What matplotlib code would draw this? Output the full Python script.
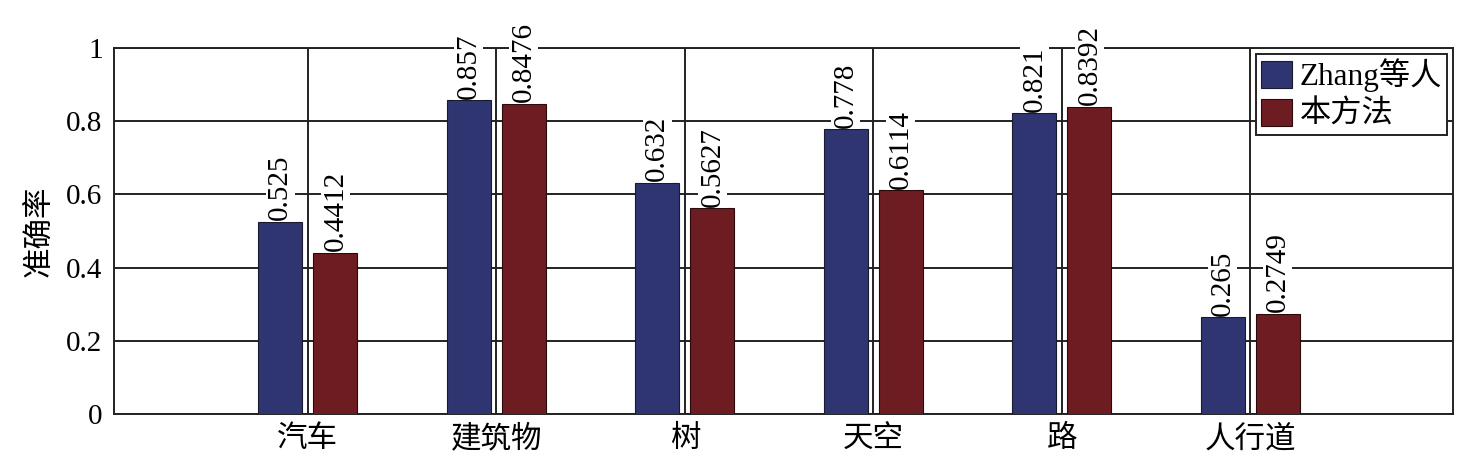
import numpy as np
import matplotlib.pyplot as plt

# -------------------------
# Data
# -------------------------

categories = ["汽车", "建筑物", "树", "天空", "路", "人行道"]
zhang = [0.525, 0.857, 0.632, 0.778, 0.821, 0.265]
ours = [0.4412, 0.8476, 0.5627, 0.6114, 0.8392, 0.2749]
zhang_labels = ["0.525", "0.857", "0.632", "0.778", "0.821", "0.265"]
ours_labels = ["0.4412", "0.8476", "0.5627", "0.6114", "0.8392", "0.2749"]
series_names = ["Zhang等人", "本方法"]

# -------------------------
# Style
# -------------------------

plt.rcParams['font.family'] = ['Liberation Serif', 'Noto Sans CJK SC']
blue = "#2f3570"
red = "#6d1c21"

fig = plt.figure(figsize=(14.58, 4.54), dpi=100)
ax = fig.add_axes([0.078, 0.0874, 0.9186, 0.8076])

x = np.arange(len(categories))
width = 0.233
offset = 0.146

b1 = ax.bar(x - offset, zhang, width, color=blue, edgecolor="#1a1a2e",
            linewidth=0.8, zorder=3, label=series_names[0])
b2 = ax.bar(x + offset, ours, width, color=red, edgecolor="#2a0a0a",
            linewidth=0.8, zorder=3, label=series_names[1])

# value labels
for bars, labels in [(b1, zhang_labels), (b2, ours_labels)]:
    for rect, lab in zip(bars, labels):
        ax.annotate(lab, (rect.get_x() + rect.get_width() / 2, rect.get_height()),
                    xytext=(0, 1), textcoords="offset points",
                    ha="center", va="bottom", rotation=90, fontsize=21,
                    zorder=5, annotation_clip=False,
                    bbox=dict(facecolor="white", edgecolor="none", pad=1))

ax.set_xlim(-1.03, 6.075)
ax.set_ylim(0, 1)
ax.set_xticks(x)
ax.set_xticklabels(categories, fontsize=22)
ax.set_yticks([0, 0.2, 0.4, 0.6, 0.8, 1])
ax.set_yticklabels(["0", "0.2", "0.4", "0.6", "0.8", "1"], fontsize=21)
ax.tick_params(length=0, pad=8)
ax.set_ylabel("准确率", fontsize=22, labelpad=8)

ax.grid(True, color="#222222", linewidth=1.4, zorder=0)
ax.set_axisbelow(True)
for s in ax.spines.values():
    s.set_linewidth(1.4)
    s.set_color("#222222")

leg = ax.legend(loc="upper right", fontsize=22.5, frameon=True, fancybox=False,
                framealpha=1, edgecolor="#222222", borderpad=0.15,
                handlelength=1.0, handleheight=0.95, handletextpad=0.25,
                labelspacing=0.2, borderaxespad=0.2)
leg.get_frame().set_linewidth(1.4)
leg.set_zorder(6)

plt.savefig("out.png")
